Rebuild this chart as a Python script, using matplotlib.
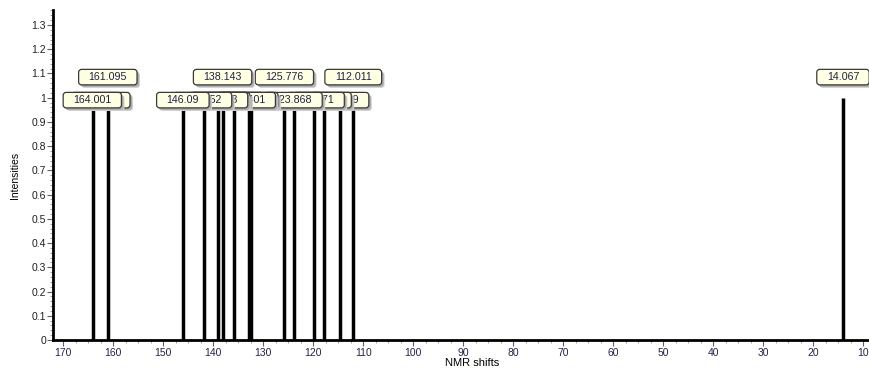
import matplotlib
matplotlib.use("Agg")
import matplotlib.pyplot as plt
from matplotlib.patches import FancyBboxPatch
from matplotlib.transforms import IdentityTransform
from matplotlib.ticker import MultipleLocator, FuncFormatter

# ---- data ----
shifts = [164.001, 161.095, 146.09, 141.952, 139.153, 138.143, 135.863,
          132.901, 132.401, 125.776, 123.868, 119.871, 117.862, 114.659,
          112.011, 14.067]
intensities = [1, 1, 1, 1, 1, 1, 1, 1, 1, 1, 1, 1, 1, 1, 1, 1]

# label layout, in drawing order (later ones drawn on top)
label_peak = [13, 12, 11, 10, 6, 7, 8, 5, 4, 3, 2, 1, 0, 14, 9, 5, 1, 15]
label_row = [0, 0, 0, 0, 0, 0, 0, 0, 0, 0, 0, 0, 0, 1, 1, 1, 1, 1]
label_dx = [0, -1.5, 1.5, -1, 0, 0, -5, -2, 1, -1, 0, -7, -1, 0, 0, 0, 0, 0]

W, H, DPI = 870, 372, 100
fig = plt.figure(figsize=(W / DPI, H / DPI), dpi=DPI)
ax = fig.add_axes([53 / W, 32 / H, 817 / W, 330 / H])

ax.vlines(shifts, 0, intensities, colors="black", linewidth=2.5, zorder=3)

ax.set_xlim(172.06, 8.66)
ax.set_ylim(0, 1.362)

for s in ["top", "right"]:
    ax.spines[s].set_visible(False)
for s in ["left", "bottom"]:
    ax.spines[s].set_linewidth(2)
    ax.spines[s].set_color("black")

ax.xaxis.set_major_locator(MultipleLocator(10))
ax.xaxis.set_minor_locator(MultipleLocator(2.5))
ax.yaxis.set_major_locator(MultipleLocator(0.1))
ax.yaxis.set_minor_locator(MultipleLocator(0.02))
ax.yaxis.set_major_formatter(FuncFormatter(lambda v, p: f"{v:.1f}".rstrip("0").rstrip(".") if v else "0"))

ax.tick_params(axis="x", which="major", length=4, width=0.8, color="#606060",
               labelsize=7.5, labelcolor="#2b2045", pad=2)
ax.tick_params(axis="x", which="minor", length=2.5, width=0.6, color="#909090")
ax.tick_params(axis="y", which="major", length=4, width=0.8, color="#606060",
               labelsize=7.5, labelcolor="#202020", pad=1)
ax.tick_params(axis="y", which="minor", length=2, width=0.6, color="#909090")

for lab in ax.get_xticklabels() + ax.get_yticklabels():
    lab.set_family("Liberation Sans")

ax.set_xlabel("NMR shifts", fontsize=8, family="Liberation Sans", labelpad=1)
ax.xaxis.set_label_coords(0.513, -0.055)
ax.set_ylabel("Intensities", fontsize=7.5, family="Liberation Sans", labelpad=8)

# ---- peak labels ----
fig.canvas.draw()
renderer = fig.canvas.get_renderer()
row_y = [0.99, 1.085]
box_h = 15.5
z = 10
for pk, row, dx in zip(label_peak, label_row, label_dx):
    text = str(shifts[pk])
    xd, yd = ax.transData.transform((shifts[pk], row_y[row]))
    xd += dx
    t = ax.text(xd, yd, text, transform=IdentityTransform(), ha="center",
                va="center", fontsize=7.7, family="Liberation Sans",
                color="#20204a", zorder=z + 3, clip_on=False)
    bb = t.get_window_extent(renderer)
    bw = bb.width + 20
    for off, col in [(3, "#cfcfcf"), (2, "#ababab")]:
        sh = FancyBboxPatch((xd - bw / 2 + off, yd - box_h / 2 - off), bw, box_h,
                            boxstyle="round,pad=0,rounding_size=3",
                            transform=IdentityTransform(), facecolor=col,
                            edgecolor="none", zorder=z, clip_on=False)
        ax.add_patch(sh)
    box = FancyBboxPatch((xd - bw / 2, yd - box_h / 2), bw, box_h,
                         boxstyle="round,pad=0,rounding_size=3",
                         transform=IdentityTransform(), facecolor="#ffffe3",
                         edgecolor="#3a3a3a", linewidth=0.9, zorder=z + 2,
                         clip_on=False)
    ax.add_patch(box)
    z += 4

fig.savefig("out.png", dpi=DPI)
